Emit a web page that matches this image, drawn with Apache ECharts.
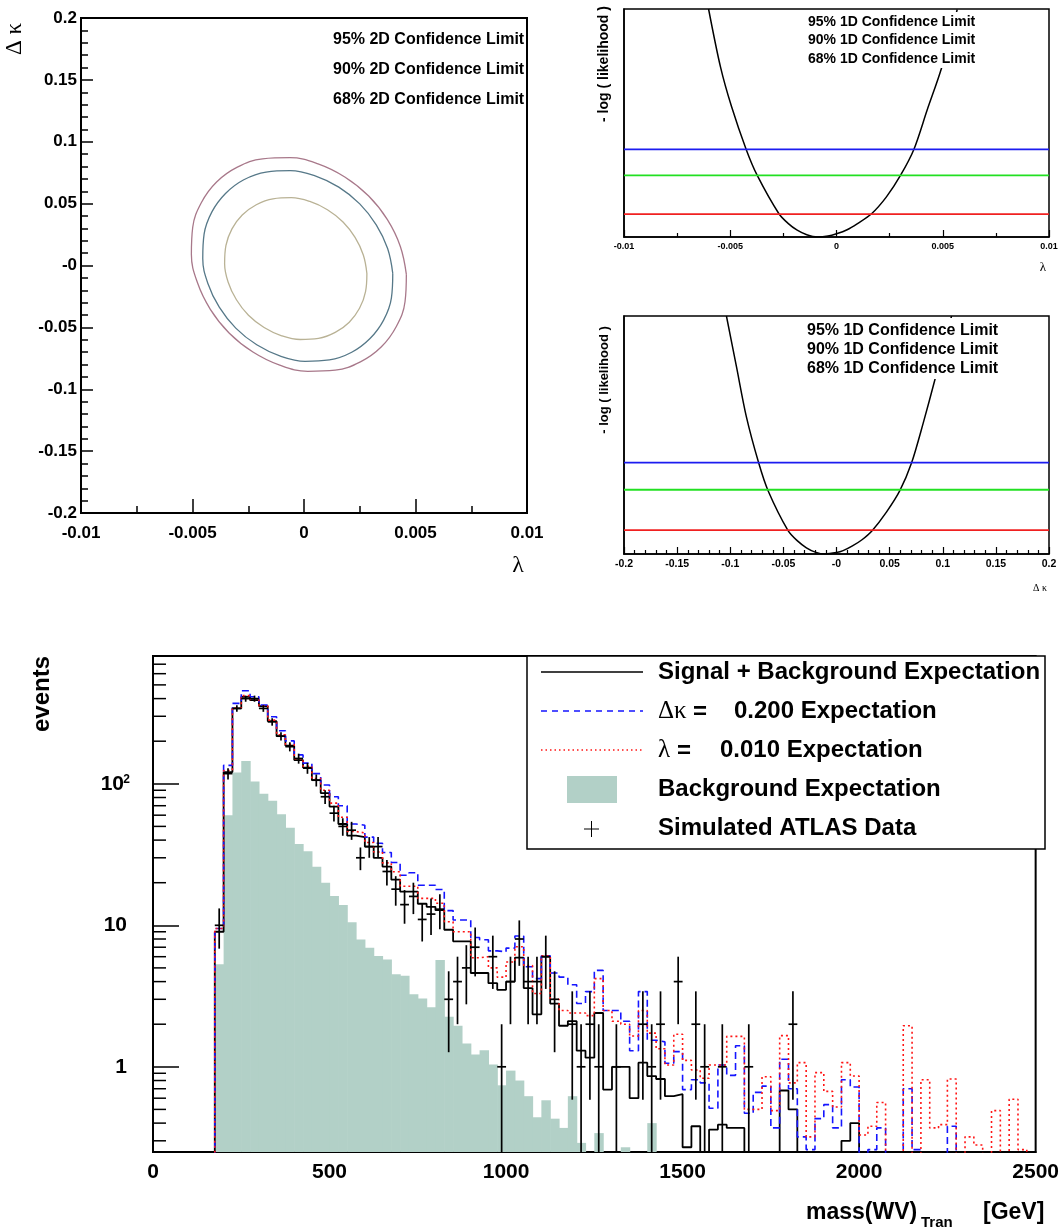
<!DOCTYPE html>
<html><head><meta charset="utf-8">
<script src="https://cdn.jsdelivr.net/npm/echarts@6/dist/echarts.min.js"></script>
<style>html,body{margin:0;padding:0;background:#fff}#c{width:1062px;height:1228px}</style>
</head><body><div id="c"></div>
<script>
// ================= DATA =================
// 2D confidence contours in (lambda, delta-kappa)
const contour95 = [[0.00459,-0.0072],[0.00432,0.0154],[0.00374,0.037],[0.0029,0.0561],[0.00183,0.0715],[0.00063,0.0821],[-0.00063,0.0871],[-0.00186,0.0862],[-0.00299,0.0795],[-0.00392,0.0675],[-0.0046,0.0509],[-0.00499,0.0309],[-0.00505,0.0088],[-0.00478,-0.0138],[-0.0042,-0.0354],[-0.00336,-0.0545],[-0.00229,-0.0699],[-0.00109,-0.0805],[0.00017,-0.0855],[0.0014,-0.0846],[0.00253,-0.0779],[0.00346,-0.0659],[0.00414,-0.0493],[0.00453,-0.0293],[0.00459,-0.0072]];
const contour90 = [[0.00398,-0.0064],[0.00375,0.0137],[0.00324,0.0329],[0.0025,0.0498],[0.00156,0.0633],[0.0005,0.0724],[-0.00061,0.0766],[-0.0017,0.0755],[-0.0027,0.0693],[-0.00352,0.0582],[-0.00413,0.0433],[-0.00448,0.0253],[-0.00454,0.0056],[-0.00431,-0.0145],[-0.0038,-0.0337],[-0.00306,-0.0506],[-0.00212,-0.0641],[-0.00106,-0.0732],[0.00005,-0.0774],[0.00114,-0.0763],[0.00214,-0.0701],[0.00296,-0.059],[0.00357,-0.0441],[0.00392,-0.0261],[0.00398,-0.0064]];
const contour68 = [[0.00282,-0.0065],[0.00266,0.0085],[0.00229,0.0227],[0.00175,0.0352],[0.00105,0.0451],[0.00026,0.0518],[-0.00057,0.0548],[-0.00139,0.0539],[-0.00214,0.0491],[-0.00277,0.0408],[-0.00323,0.0296],[-0.0035,0.0162],[-0.00356,0.0015],[-0.0034,-0.0135],[-0.00303,-0.0277],[-0.00249,-0.0402],[-0.00179,-0.0501],[-0.001,-0.0568],[-0.00017,-0.0598],[0.00065,-0.0589],[0.0014,-0.0541],[0.00203,-0.0458],[0.00249,-0.0346],[0.00276,-0.0212],[0.00282,-0.0065]];
const contourLabels = ['95% 2D Confidence Limit','90% 2D Confidence Limit','68% 2D Confidence Limit'];

// 1D likelihood scans (-log L)
const lambdaScan = [[-0.00602,5.0],[-0.00546,3.73],[-0.00494,2.86],[-0.00425,1.92],[-0.00373,1.35],[-0.00271,0.51],[-0.00228,0.30],[-0.00185,0.15],[-0.0014,0.05],[-0.0009,0.0],[-0.0004,0.02],[0,0.07],[0.0005,0.16],[0.00097,0.29],[0.00165,0.51],[0.00235,0.88],[0.00301,1.35],[0.00364,1.92],[0.00427,2.79],[0.00494,3.70],[0.00568,4.99]];
const dkappaScan = [[-0.1036,5.0],[-0.0942,3.94],[-0.0848,2.88],[-0.0732,1.91],[-0.0644,1.33],[-0.0456,0.49],[-0.037,0.28],[-0.0283,0.13],[-0.02,0.04],[-0.011,0.0],[0.0,0.03],[0.0062,0.07],[0.015,0.17],[0.024,0.30],[0.0335,0.49],[0.047,0.88],[0.0596,1.33],[0.0706,1.91],[0.0816,2.75],[0.0926,3.66],[0.1083,5.0]];
const levels1D = [1.92, 1.35, 0.5];           // 95%, 90%, 68%
const levelColors = ['#1c1cf0', '#22e022', '#f02020'];
const levelLabels = ['95% 1D Confidence Limit','90% 1D Confidence Limit','68% 1D Confidence Limit'];

// Transverse mass histogram, 25 GeV bins starting at 175 GeV
const binLow = Array.from({length: 93}, (_, i) => 175 + 25 * i);
const binWidth = 25;
const sigBkg = [9,121,341,412,390,354,277,217,186,147, 130,106,86,69,52,43,42,36,30,26, 21,17.3,17.3,14.2,13.5,12.8,9.3,7.7,7.7,4.6, 4.6,3.9,3.5,4.0,5.9,3.6,2.35,6.0,2.8,1.95, 2.1,1.3,1.16,2.4,0.69,1.0,1.0,0.6,1.07,0.86, 0.82,0.62,0.64,0.27,0.38,0,0.36,0.39,0.37,0.37, 0,0,0,0,0.68,0.5,0,0,0,0, 0,0.3,0.4,0,0,0,0,0,0,0, 0,0,0,0,0,0,0,0,0,0, 0,0,0];
const dkappaExp = [9.5,135,370,454,412,360,298,237,201,160, 140,118,98,81,70,52,51,42,38,32.7, 27.8,22.6,23.5,19.2,19.2,17.9,12.7,10.9,10.9,8.2, 7.9,6.6,6.5,6.9,8.4,5.1,4.2,6.1,4.6,4.3, 3.8,2.8,3.4,4.8,2.5,2.5,2.1,1.3,3.4,1.54, 1.5,1.06,1.28,0.69,0.81,0.77,0.51,1.03,0.87,1.41, 0.47,0.66,0.73,0.37,1.13,0.7,0.32,0.26,0.43,0.54, 0.37,0.81,0.72,0,0.26,0.37,0,0,0.7,0.26, 0,0,0,0.38,0,0,0,0,0,0, 0,0,0];
const lambdaExp = [9.5,124,345,420,395,356,282,222,190,150, 133,109,90,73,58,46,45,38.5,33,27.6, 23.9,18.9,18.9,15.5,15.5,14.3,10.6,9.0,9.0,5.9, 6.0,5.0,4.3,5.5,7.05,5.2,3.3,6.1,3.0,2.5, 2.4,2.4,2.3,4.2,2.5,2.1,2.0,1.65,2.5,1.73, 1.34,1.03,1.7,1.11,0.95,0.83,1.03,1.03,1.64,1.64, 0.5,0.5,0.85,0.49,1.66,0.77,1.07,0.32,0.91,0.67, 0.52,1.07,0.86,0.33,0.38,0.56,0,0,1.95,0, 0.81,0.37,0.39,0.82,0,0.32,0.28,0,0.49,0, 0.59,0.26,0];
const background = [5.3,60,120,145,104,85,76,61,49,37.5, 33.4,25.9,20,16.1,13.9,10.5,7.95,6.93,6.06,5.74, 4.5,4.4,3.25,3.04,2.64,5.68,2.26,1.95,1.46,1.22, 1.31,1.04,0.74,0.94,0.8,0.62,0.44,0.58,0.43,0.37, 0.62,0.29,0,0.34,0,0,0.27,0,0,0.4, 0,0,0,0,0,0,0,0,0,0, 0,0,0,0,0,0,0,0,0,0, 0,0,0,0,0,0,0,0,0,0, 0,0,0,0,0,0,0,0,0,0, 0,0,0];
const dataCounts = [10,118,341,400,400,341,274,217,183,151, 129,106,81,62,50,47,30,36,36,24, 18,14,16,11,12,13,3,4,5,7, 0,6,1,4,8,4,4,6,3,0, 2,1,2,1,0,1,0,0,2,1, 2,0,4,0,2,1,0,1,0,0, 1,0,0,0,0,2,0,0,0,0, 0,0,0,0,0,0,0,0,0,0, 0,0,0,0,0,0,0,0,0,0, 0,0,0];
const histLegend = ['Signal + Background Expectation','0.200 Expectation','0.010 Expectation','Background Expectation','Simulated ATLAS Data'];
const massTicks = [0, 500, 1000, 1500, 2000, 2500];

// ================= CHART =================
const SANS = '"Liberation Sans", Arial, Helvetica, sans-serif';
const SERIF = '"Liberation Serif", "Times New Roman", serif';
const YMIN = 0.25, YMAX = 800, OFF = 0.05;
const chart = echarts.init(document.getElementById('c'), null, {renderer: 'canvas'});

const blk = '#000';
function fmtNum(v){ return String(+v.toFixed(4)); }
function fmtNeg0(v){ return Math.abs(v) < 1e-9 ? '-0' : fmtNum(v); }

function valAxis(grid, o){
  return Object.assign({
    gridIndex: grid, type: 'value',
    axisLine: {show: true, onZero: false, lineStyle: {color: blk, width: 2}},
    splitLine: {show: false},
    axisTick: {show: true, inside: true, length: 12, lineStyle: {color: blk, width: 1.5}},
    minorTick: {show: true, splitNumber: 5, length: 6, lineStyle: {color: blk, width: 1.5}},
    axisLabel: {color: blk, fontFamily: SANS, fontWeight: 'bold', fontSize: 17}
  }, o);
}

const stepData = vals => {
  const d = [[0, OFF]];
  vals.forEach((v, i) => d.push([binLow[i], v > 0 ? v : OFF]));
  const last = vals[vals.length - 1];
  d.push([binLow[binLow.length - 1] + binWidth, last > 0 ? last : OFF]);
  return d;
};

const logMinor = [];
[0.1, 1, 10, 100].forEach(dec => { for (let k = 2; k <= 9; k++) { const v = +(k * dec).toFixed(4); if (v > YMIN && v < YMAX) logMinor.push(v); } });

const series = [];
[[contour95, '#a8788a'], [contour90, '#567888'], [contour68, '#b9b295']].forEach(([d, c]) => {
  series.push({type: 'line', xAxisIndex: 0, yAxisIndex: 0, data: d, smooth: 0.4, symbol: 'none', lineStyle: {color: c, width: 1.3}, silent: true});
});
series.push({type: 'line', xAxisIndex: 1, yAxisIndex: 1, data: lambdaScan, smooth: 0.3, symbol: 'none', lineStyle: {color: blk, width: 1.5}});
series.push({type: 'line', xAxisIndex: 2, yAxisIndex: 2, data: dkappaScan, smooth: 0.3, symbol: 'none', lineStyle: {color: blk, width: 1.5}});
levels1D.forEach((lv, i) => {
  series.push({type: 'line', xAxisIndex: 1, yAxisIndex: 1, data: [[-0.01, lv], [0.01, lv]], symbol: 'none', lineStyle: {color: levelColors[i], width: 1.8}});
  series.push({type: 'line', xAxisIndex: 2, yAxisIndex: 2, data: [[-0.2, lv], [0.2, lv]], symbol: 'none', lineStyle: {color: levelColors[i], width: 1.8}});
});
// background fill
series.push({
  type: 'custom', xAxisIndex: 3, yAxisIndex: 3, clip: true, z: 2,
  data: background.map((v, i) => [binLow[i], v, binLow[i] + binWidth]).filter(d => d[1] > 0),
  renderItem: (p, api) => {
    const a = api.coord([api.value(0), api.value(1)]), b = api.coord([api.value(2), YMIN]);
    return {type: 'rect', shape: {x: a[0], y: a[1], width: b[0] - a[0] + 0.6, height: b[1] - a[1]}, style: {fill: '#b2d0c7'}};
  }
});
series.push({type: 'line', xAxisIndex: 3, yAxisIndex: 3, data: stepData(sigBkg), step: 'end', symbol: 'none', z: 3, lineStyle: {color: blk, width: 1.8}});
series.push({type: 'line', xAxisIndex: 3, yAxisIndex: 3, data: stepData(dkappaExp), step: 'end', symbol: 'none', z: 4, lineStyle: {color: '#1515ff', width: 1.6, type: [7, 4]}});
series.push({type: 'line', xAxisIndex: 3, yAxisIndex: 3, data: stepData(lambdaExp), step: 'end', symbol: 'none', z: 5, lineStyle: {color: '#ff1515', width: 1.6, type: [2, 3]}});
// data with Poisson error bars
series.push({
  type: 'custom', xAxisIndex: 3, yAxisIndex: 3, clip: true, z: 6,
  data: dataCounts.map((n, i) => [binLow[i] + binWidth / 2, n, binLow[i], binLow[i] + binWidth]).filter(d => d[1] > 0),
  renderItem: (p, api) => {
    const c = api.value(0), n = api.value(1), e = Math.sqrt(n);
    const l = api.coord([api.value(2), n]), r = api.coord([api.value(3), n]);
    const t = api.coord([c, n + e]), b = api.coord([c, n - e > 0 ? n - e : 0.01]);
    const st = {stroke: blk, lineWidth: 1.7};
    return {type: 'group', children: [
      {type: 'line', shape: {x1: l[0], y1: l[1], x2: r[0], y2: r[1]}, style: st},
      {type: 'line', shape: {x1: t[0], y1: t[1], x2: b[0], y2: b[1]}, style: st}
    ]};
  }
});
// log-axis minor ticks (2..9 per decade)
series.push({
  type: 'custom', xAxisIndex: 3, yAxisIndex: 3, z: 7,
  data: logMinor.map(v => [0, v]),
  renderItem: (p, api) => {
    const a = api.coord([0, api.value(1)]);
    return {type: 'line', shape: {x1: a[0], y1: a[1], x2: a[0] + 13, y2: a[1]}, style: {stroke: blk, lineWidth: 1.5}};
  }
});

// ---------- graphic texts / legends ----------
const g = [];
const Z = 100;
function txt(x, y, text, font, o){ g.push(Object.assign({type: 'text', x, y, z: Z, style: Object.assign({text, font, fill: blk, textAlign: 'left', textVerticalAlign: 'middle'}, (o && o.style) || {})}, o && o.el || {})); }
function rect(x, y, w, h, style){ g.push({type: 'rect', z: Z - 1, shape: {x, y, width: w, height: h}, style}); }
function line(x1, y1, x2, y2, style){ g.push({type: 'line', z: Z, shape: {x1, y1, x2, y2}, style}); }

// top-left
contourLabels.forEach((s, i) => txt(333, 40 + 30 * i, s, 'bold 16px ' + SANS));
txt(15, 39, 'Δ κ', '23px ' + SERIF, {style: {textAlign: 'center'}, el: {rotation: Math.PI / 2}});
txt(518, 566, 'λ', '24px ' + SERIF, {style: {textAlign: 'center'}});
// panel 1
rect(800, 12, 200, 56, {fill: '#fff'});
levelLabels.forEach((s, i) => txt(808, 22 + 18.5 * i, s, 'bold 14px ' + SANS));
txt(604, 64, '- log ( likelihood )', 'bold 14px ' + SANS, {style: {textAlign: 'center'}, el: {rotation: Math.PI / 2}});
txt(1043, 268, 'λ', '13px ' + SERIF, {style: {textAlign: 'center'}});
// panel 2
rect(800, 318, 205, 61, {fill: '#fff'});
levelLabels.forEach((s, i) => txt(807, 331 + 19 * i, s, 'bold 16px ' + SANS));
txt(604, 380, '- log ( likelihood )', 'bold 13px ' + SANS, {style: {textAlign: 'center'}, el: {rotation: Math.PI / 2}});
txt(1040, 588, 'Δ κ', '10px ' + SERIF, {style: {textAlign: 'center'}});
// histogram legend
rect(527, 656, 518, 193, {fill: '#fff', stroke: blk, lineWidth: 1.5});
line(541, 672, 643, 672, {stroke: blk, lineWidth: 1.3});
line(541, 711, 643, 711, {stroke: '#1515ff', lineWidth: 1.3, lineDash: [6, 5]});
line(541, 750, 643, 750, {stroke: '#ff1515', lineWidth: 1.3, lineDash: [1.5, 3]});
g.push({type: 'rect', z: Z, shape: {x: 567, y: 776, width: 50, height: 27}, style: {fill: '#b2d0c7'}});
line(584, 829, 599, 829, {stroke: blk, lineWidth: 1});
line(591.5, 821, 591.5, 837, {stroke: blk, lineWidth: 1});
const LF = 'bold 24px ' + SANS;
txt(658, 672, histLegend[0], LF);
txt(658, 711, 'Δκ', '25px ' + SERIF);
txt(693, 712, '=', LF);
txt(734, 711, histLegend[1], LF);
txt(658, 750, 'λ', '25px ' + SERIF);
txt(677, 751, '=', LF);
txt(720, 750, histLegend[2], LF);
txt(658, 789, histLegend[3], LF);
txt(658, 828, histLegend[4], LF);
// histogram axis titles
txt(42, 694, 'events', 'bold 24px ' + SANS, {style: {textAlign: 'center'}, el: {rotation: Math.PI / 2}});
txt(806, 1213, 'mass(WV)', 'bold 23px ' + SANS);
txt(921, 1223, 'Tran', 'bold 15px ' + SANS);
txt(983, 1213, '[GeV]', 'bold 23px ' + SANS);

const option = {
  animation: false,
  backgroundColor: '#fff',
  grid: [
    {left: 81, top: 18, width: 446, height: 495, show: true, borderColor: blk, borderWidth: 2},
    {left: 624, top: 9, width: 425, height: 228, show: true, borderColor: blk, borderWidth: 1.5},
    {left: 624, top: 316, width: 425, height: 238, show: true, borderColor: blk, borderWidth: 1.5},
    {left: 153, top: 656, width: 890, height: 496, show: true, borderColor: blk, borderWidth: 2}
  ],
  xAxis: [
    valAxis(0, {min: -0.01, max: 0.01, interval: 0.005,
      axisTick: {inside: true, length: 14, lineStyle: {color: blk, width: 1.5}},
      minorTick: {show: true, splitNumber: 2, length: 7, lineStyle: {color: blk, width: 1.5}},
      axisLabel: {color: blk, fontFamily: SANS, fontWeight: 'bold', fontSize: 17, margin: 12, formatter: fmtNum}}),
    valAxis(1, {min: -0.01, max: 0.01, interval: 0.005,
      axisLine: {show: true, onZero: false, lineStyle: {color: blk, width: 1.5}},
      axisTick: {inside: true, length: 7, lineStyle: {color: blk, width: 1.2}},
      minorTick: {show: true, splitNumber: 2, length: 4, lineStyle: {color: blk, width: 1.2}},
      axisLabel: {color: blk, fontFamily: SANS, fontWeight: 'bold', fontSize: 9, margin: 5, formatter: fmtNum}}),
    valAxis(2, {min: -0.2, max: 0.2, interval: 0.05,
      axisLine: {show: true, onZero: false, lineStyle: {color: blk, width: 1.5}},
      axisTick: {inside: true, length: 7, lineStyle: {color: blk, width: 1.2}},
      minorTick: {show: true, splitNumber: 5, length: 4, lineStyle: {color: blk, width: 1.2}},
      axisLabel: {color: blk, fontFamily: SANS, fontWeight: 'bold', fontSize: 10.5, margin: 5, formatter: fmtNeg0}}),
    valAxis(3, {min: 0, max: 2500, interval: 500,
      axisTick: {show: false}, minorTick: {show: false},
      axisLabel: {color: blk, fontFamily: SANS, fontWeight: 'bold', fontSize: 21, margin: 10,
        formatter: v => massTicks.includes(v) ? String(v) : ''}})
  ],
  yAxis: [
    valAxis(0, {min: -0.2, max: 0.2, interval: 0.05,
      axisTick: {inside: true, length: 12, lineStyle: {color: blk, width: 1.5}},
      minorTick: {show: true, splitNumber: 5, length: 7, lineStyle: {color: blk, width: 1.5}},
      axisLabel: {color: blk, fontFamily: SANS, fontWeight: 'bold', fontSize: 17, margin: 4, formatter: fmtNeg0}}),
    valAxis(1, {min: 0, max: 5, axisTick: {show: false}, minorTick: {show: false}, axisLabel: {show: false},
      axisLine: {show: true, onZero: false, lineStyle: {color: blk, width: 1.5}}}),
    valAxis(2, {min: 0, max: 5, axisTick: {show: false}, minorTick: {show: false}, axisLabel: {show: false},
      axisLine: {show: true, onZero: false, lineStyle: {color: blk, width: 1.5}}}),
    {gridIndex: 3, type: 'log', logBase: 10, min: YMIN, max: YMAX,
      axisLine: {show: true, onZero: false, lineStyle: {color: blk, width: 2}},
      splitLine: {show: false}, minorTick: {show: false},
      axisTick: {show: true, inside: true, length: 26, lineStyle: {color: blk, width: 1.5}},
      axisLabel: {color: blk, fontFamily: SANS, fontWeight: 'bold', fontSize: 21, margin: 26, showMinLabel: false, showMaxLabel: false,
        formatter: v => {
          const l = Math.log10(v), r = Math.round(l);
          if (Math.abs(l - r) > 1e-6 || r < 0) return '';
          if (r === 0) return '1';
          if (r === 1) return '10';
          return '{b|10}{s|' + r + '}';
        },
        rich: {
          b: {fontFamily: SANS, fontWeight: 'bold', fontSize: 21, color: blk},
          s: {fontFamily: SANS, fontWeight: 'bold', fontSize: 12, color: blk, verticalAlign: 'top', width: 1, align: 'left', padding: [0, 0, 0, 2]}
        }}}
  ],
  series,
  graphic: {elements: g}
};
chart.setOption(option);
</script>
</body></html>
